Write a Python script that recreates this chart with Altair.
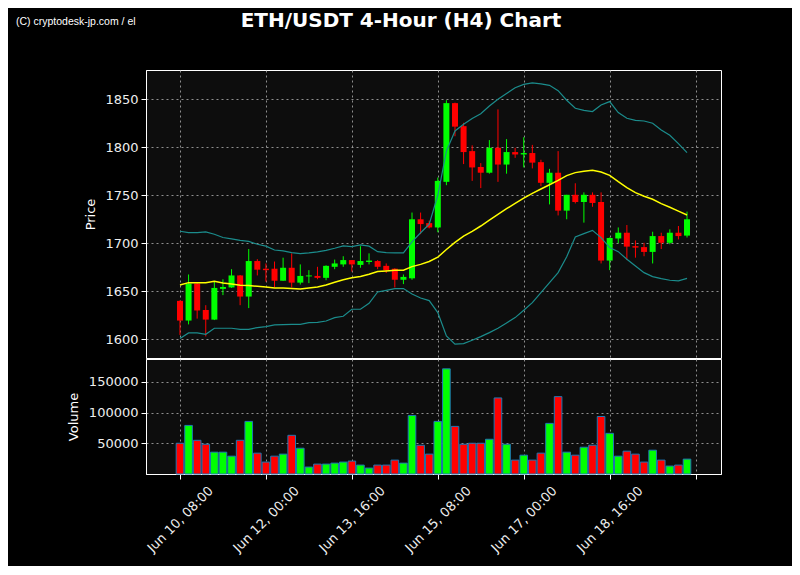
import altair as alt
import pandas as pd

# ---- data (ETH/USDT, 4-hour candles from Jun 10 2023 08:00) ----
open_ = [1640, 1619.5, 1658, 1630.5, 1620.5, 1652.5, 1654, 1666.5, 1644.5, 1681.5,
         1673.5, 1673.5, 1661, 1674.5, 1659, 1665.5, 1666, 1664, 1675.5, 1678,
         1682.5, 1677.5, 1680.5, 1681.5, 1676.5, 1673.5, 1662, 1663.5, 1725, 1721,
         1716.5, 1764, 1846, 1822, 1796, 1779.5, 1773.5, 1799.5, 1782, 1795,
         1792.5, 1794, 1784.5, 1763, 1773.5, 1734, 1750.5, 1743, 1750.5, 1743,
         1682, 1705, 1711, 1697, 1696, 1691, 1707.5, 1700.5, 1711, 1708]
high = [1640.5, 1667.5, 1658.5, 1635.5, 1660, 1662.5, 1673, 1667, 1694, 1683.5,
        1679, 1681, 1685, 1689.5, 1678, 1672, 1675.5, 1677, 1683, 1686.5,
        1682.5, 1697, 1689.5, 1682.5, 1679, 1674, 1667.5, 1732, 1732, 1723.5,
        1768.5, 1849, 1846.5, 1825.5, 1802, 1783.5, 1807.5, 1839.5, 1808.5, 1799.5,
        1810.5, 1802.5, 1787, 1777.5, 1796, 1750.5, 1762.5, 1753, 1753, 1753,
        1706, 1716.5, 1719, 1703, 1700.5, 1712, 1711, 1714.5, 1718, 1733]
low = [1604.5, 1615.5, 1621.5, 1603, 1620, 1646, 1653.5, 1635.5, 1632.5, 1666.5,
       1660, 1654, 1661, 1654, 1657, 1658.5, 1662.5, 1661.5, 1673, 1675.5,
       1670.5, 1674.5, 1678, 1673, 1669, 1654, 1657.5, 1662, 1709.5, 1715.5,
       1711.5, 1760.5, 1811.5, 1782.5, 1765, 1757.5, 1772.5, 1764, 1772.5, 1789,
       1779, 1778, 1759.5, 1740.5, 1729, 1725, 1741.5, 1721.5, 1738, 1679,
       1672, 1700, 1682.5, 1685, 1686.5, 1679, 1694, 1699, 1704, 1706]
close = [1619.5, 1658, 1630, 1620.5, 1653.5, 1654.5, 1666.5, 1644.5, 1681.5, 1672.5,
         1672, 1661, 1674.5, 1659, 1666, 1666.5, 1664, 1676.5, 1679, 1682.5,
         1678, 1681.5, 1682, 1675.5, 1672, 1662, 1665, 1725, 1720, 1716.5,
         1765, 1846, 1821.5, 1795, 1779, 1773.5, 1799.5, 1782, 1795, 1792.5,
         1794, 1784, 1763, 1773.5, 1734, 1750.5, 1743, 1750.5, 1742, 1682,
         1705.5, 1711, 1696.5, 1695.5, 1691, 1707.5, 1700.5, 1711, 1707.5, 1725]
volume = [50000, 79000, 54800, 48400, 35500, 35500, 29000, 54800, 85500, 33900,
          19400, 29000, 32300, 62900, 41900, 11300, 16100, 16100, 17700, 19400,
          21000, 14500, 9700, 14500, 14500, 22600, 17700, 95200, 46800, 32300,
          85500, 171000, 77400, 48400, 50000, 50000, 56500, 123700, 48400, 22600,
          30600, 22600, 33900, 82300, 125800, 35500, 30600, 43500, 46800, 93500,
          66100, 29000, 37100, 32300, 19400, 38700, 22600, 12900, 14500, 24200]
sma = [1656.6, 1659, 1659, 1659, 1660.4, 1658.7, 1657.6, 1656.2, 1656, 1655.2,
       1654.5, 1653.5, 1653.3, 1652.8, 1652.4, 1653.5, 1654.5, 1656.5, 1659.4, 1662,
       1664, 1665.3, 1667.7, 1670.5, 1671.2, 1671.9, 1672, 1675.7, 1678, 1681,
       1685.5, 1693.5, 1701, 1707.5, 1712.5, 1718, 1724, 1730, 1736, 1741.5,
       1747, 1752, 1756.5, 1761, 1765.5, 1770.5, 1773.6, 1775, 1776, 1774.3,
       1770.8, 1764.2, 1758, 1752.8, 1749, 1745.8, 1741.3, 1737.5, 1733.5, 1729.5]
upper = [1712.5, 1711.1, 1711, 1711.8, 1709.4, 1706, 1704.5, 1703, 1702, 1699,
         1697, 1693, 1692, 1690.3, 1689.2, 1690, 1691, 1692.7, 1694.8, 1697.2,
         1696.5, 1698.3, 1697, 1691.3, 1690.3, 1690, 1690, 1701.5, 1711, 1720,
         1750, 1796, 1817, 1824, 1830, 1835, 1843, 1850, 1856, 1862,
         1865.5, 1867, 1866, 1864.5, 1859, 1849, 1840.6, 1838.5, 1837.2, 1844.1,
         1847.6, 1836.1, 1830.2, 1828.1, 1827.4, 1825, 1818.1, 1812.5, 1803.8, 1794.4]
lower = [1600.7, 1606.6, 1606.6, 1605.2, 1611.5, 1611.5, 1611.5, 1610.4, 1610.4, 1612.2,
         1613.2, 1615, 1615.3, 1615.5, 1615.6, 1617.4, 1617.7, 1619, 1622.6, 1624,
         1631.3, 1631.3, 1637.5, 1649.3, 1651, 1652.8, 1652.8, 1647.2, 1643, 1640.3,
         1627.8, 1603.5, 1595, 1595.5, 1599, 1602.8, 1606.9, 1611.5, 1617, 1622.6,
         1630.2, 1638.2, 1648.6, 1659, 1669.4, 1686, 1706.6, 1710, 1713.5, 1705.9,
         1695.5, 1691.3, 1683.3, 1676.4, 1669.4, 1665.3, 1663.2, 1661.5, 1660.8, 1663.5]
price_ticks = [1600, 1650, 1700, 1750, 1800, 1850]
volume_ticks = [50000, 100000, 150000]

title_text = "ETH/USDT 4-Hour (H4) Chart"
credit_text = "(C) cryptodesk-jp.com / el"

times = pd.date_range("2023-06-10 08:00", periods=len(open_), freq="4h")
df = pd.DataFrame({
    "t": times.strftime("%Y-%m-%dT%H:%M:%S"),
    "open": open_, "high": high, "low": low, "close": close,
    "volume": volume, "sma": sma, "upper": upper, "lower": lower,
})
df["dir"] = ["up" if c >= o else "down" for o, c in zip(open_, close)]

tick_vals = [
    alt.DateTime(year=2023, month=6, date=10, hours=8),
    alt.DateTime(year=2023, month=6, date=12, hours=0),
    alt.DateTime(year=2023, month=6, date=13, hours=16),
    alt.DateTime(year=2023, month=6, date=15, hours=8),
    alt.DateTime(year=2023, month=6, date=17, hours=0),
    alt.DateTime(year=2023, month=6, date=18, hours=16),
    alt.DateTime(year=2023, month=6, date=20, hours=8),
]
xscale = alt.Scale(domain=[
    alt.DateTime(year=2023, month=6, date=9, hours=16, minutes=11),
    alt.DateTime(year=2023, month=6, date=20, hours=19, minutes=49),
], padding=0, nice=False)
yscale = alt.Scale(domain=[1580.5, 1880.5], nice=False, zero=False, padding=0)
color = alt.Color("dir:N", scale=alt.Scale(domain=["up", "down"], range=["#00ff00", "#ff0000"]), legend=None)

W = 575


def xt():
    return alt.X("t:T", scale=xscale,
                 axis=alt.Axis(values=tick_vals, labels=False, ticks=False, domain=False,
                               grid=True, title=None))


def yp(field):
    return alt.Y(field, scale=yscale,
                 axis=alt.Axis(values=price_ticks, format="d", title="Price", titlePadding=7))


base = alt.Chart(df)
wicks = base.mark_rule(strokeWidth=1).encode(x=xt(), y=yp("low:Q"), y2="high:Q", color=color)
bodies = base.mark_bar(size=6).encode(x=xt(), y=yp("open:Q"), y2="close:Q", color=color)
band_u = base.mark_line(color="#1b8c8c", strokeWidth=1.2).encode(x=xt(), y=yp("upper:Q"))
band_l = base.mark_line(color="#1b8c8c", strokeWidth=1.2).encode(x=xt(), y=yp("lower:Q"))
sma_line = base.mark_line(color="#ffff00", strokeWidth=1.5).encode(x=xt(), y=yp("sma:Q"))

title_mark = alt.Chart(pd.DataFrame({"s": [title_text]})).mark_text(
    font="DejaVu Sans", fontSize=20, fontWeight="bold", color="white", align="center", baseline="top"
).encode(x=alt.value(255), y=alt.value(-59), text="s:N")
credit_mark = alt.Chart(pd.DataFrame({"s": [credit_text]})).mark_text(
    font="Liberation Sans Narrow, Arial Narrow, Liberation Sans, sans-serif", fontSize=10.5,
    color="white", align="left", baseline="top"
).encode(x=alt.value(-130), y=alt.value(-53), text="s:N")

price = alt.layer(wicks, bodies, band_u, band_l, sma_line, title_mark, credit_mark).properties(
    width=W, height=288)

vol = base.mark_bar(size=7.6, stroke="#1f77b4", strokeWidth=1).encode(
    x=alt.X("t:T", scale=xscale,
            axis=alt.Axis(values=tick_vals, format="%b %d, %H:%M",
                          labelExpr="datum.value >= datetime(2023, 5, 20, 0, 0) ? '' : datum.label",
                          labelAngle=-45, labelAlign="center", labelBaseline="middle",
                          labelPadding=40, labelOverlap=False, grid=True, title=None)),
    y=alt.Y("volume:Q", scale=alt.Scale(domain=[0, 187000], nice=False, padding=0),
            axis=alt.Axis(values=volume_ticks, format="d", title="Volume", titlePadding=8)),
    color=color,
).properties(width=W, height=115)

chart = alt.vconcat(price, vol, spacing=-2).properties(
    background="#000000",
    padding={"left": 7, "top": 2, "right": 70, "bottom": 10},
).configure_view(
    fill="#0d0d0d", stroke="#ffffff", strokeWidth=1
).configure_axis(
    labelColor="#eeeeee", titleColor="#ffffff", labelFont="DejaVu Sans", titleFont="DejaVu Sans",
    labelFontSize=13, titleFontSize=13, titleFontWeight="normal",
    domainColor="#ffffff", tickColor="#ffffff", tickSize=5, labelPadding=3,
    gridColor="#b0b0b0", gridDash=[2, 3], gridOpacity=0.8, gridWidth=1,
)

chart.save("out.html", embed_options={"renderer": "svg", "actions": False})
